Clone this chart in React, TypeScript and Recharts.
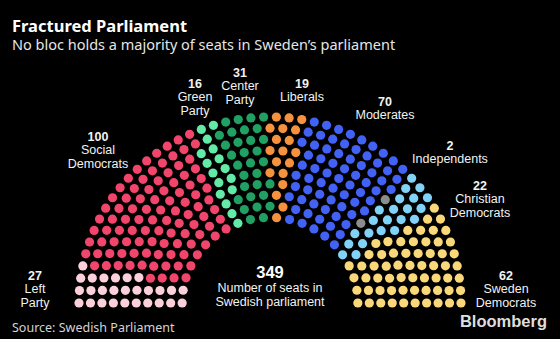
import React from "react";
import { ScatterChart, Scatter, XAxis, YAxis } from "recharts";

// seats per party, left to right around the arc
const parties = [
  "Left Party",
  "Social Democrats",
  "Green Party",
  "Center Party",
  "Liberals",
  "Moderates",
  "Independents",
  "Christian Democrats",
  "Sweden Democrats",
];
const seats = [27, 100, 16, 31, 19, 70, 2, 22, 62];
const colors = [
  "#fbd0da",
  "#f2456b",
  "#62eaa6",
  "#20a062",
  "#f6923e",
  "#4262f6",
  "#8d8d8d",
  "#80d2f7",
  "#fad87a",
];

const W = 560;
const H = 339;
const CX = 270; // centre of the hemicycle, px
const CY = 303;
const RX = 191; // outer radius, px
const RY = 186;
const ROWS = 10;
const INNER = 0.46;

if (typeof document !== "undefined") {
  document.body.style.margin = "0";
  document.body.style.background = "#000";
}

// largest-remainder split of n over weights
function apportion(n: number, weights: number[]) {
  const sum = weights.reduce((a, b) => a + b, 0);
  const raw = weights.map((w) => (n * w) / sum);
  const out = raw.map((v) => Math.floor(v));
  let left = n - out.reduce((a, b) => a + b, 0);
  raw
    .map((v, i) => ({ i, rem: v - Math.floor(v) }))
    .sort((a, b) => b.rem - a.rem)
    .forEach(({ i }) => {
      if (left > 0) {
        out[i] += 1;
        left -= 1;
      }
    });
  return out;
}

// hemicycle layout: each party boundary is cut through all rings at once
function buildSeats() {
  const total = seats.reduce((a, b) => a + b, 0);
  const radii = Array.from({ length: ROWS }, (_, i) => INNER + ((1 - INNER) * i) / (ROWS - 1));
  const counts = apportion(total, radii);

  let cum = 0;
  let prev = counts.map(() => 0);
  const groups = parties.map(() => [] as { x: number; y: number }[]);
  seats.forEach((n, pi) => {
    cum += n;
    const cut = apportion(cum, counts).map((v, i) => Math.max(v, prev[i]));
    radii.forEach((r, i) => {
      const m = counts[i];
      for (let j = prev[i]; j < cut[i]; j++) {
        const a = Math.PI * (1 - j / (m - 1));
        groups[pi].push({ x: r * Math.cos(a), y: r * Math.sin(a) });
      }
    });
    prev = cut;
  });
  return groups;
}

const groups = buildSeats();

const labels = [
  { x: 35, y: 275, lines: ["27", "Left", "Party"] },
  { x: 98, y: 136, lines: ["100", "Social", "Democrats"] },
  { x: 195, y: 83, lines: ["16", "Green", "Party"] },
  { x: 240, y: 72, lines: ["31", "Center", "Party"] },
  { x: 302, y: 83, lines: ["19", "Liberals"] },
  { x: 385, y: 101, lines: ["70", "Moderates"] },
  { x: 450, y: 145, lines: ["2", "Independents"] },
  { x: 480, y: 185, lines: ["22", "Christian", "Democrats"] },
  { x: 506, y: 275, lines: ["62", "Sweden", "Democrats"] },
];

const Dot = (props: any) => (
  <circle cx={props.cx} cy={props.cy} r={4.6} fill={props.fill} />
);

export default function App() {
  const labelFont = "'Liberation Sans', Arial, sans-serif";
  const brandFont = "'Noto Sans', 'Open Sans', sans-serif";
  return (
    <div style={{ position: "relative", width: W, height: H, background: "#000" }}>
      <ScatterChart width={W} height={H} margin={{ top: 0, right: 0, bottom: 0, left: 0 }}>
        <XAxis
          type="number"
          dataKey="x"
          hide
          domain={[-CX / RX, (W - CX) / RX]}
          allowDataOverflow
        />
        <YAxis
          type="number"
          dataKey="y"
          hide
          domain={[-(H - CY) / RY, CY / RY]}
          allowDataOverflow
        />
        {groups.map((g, i) => (
          <Scatter
            key={parties[i]}
            name={parties[i]}
            data={g}
            fill={colors[i]}
            shape={Dot}
            isAnimationActive={false}
          />
        ))}
      </ScatterChart>
      <svg
        width={W}
        height={H}
        style={{ position: "absolute", left: 0, top: 0, pointerEvents: "none" }}
      >
        <text x={12} y={32} fill="#fff" fontFamily={brandFont} fontWeight={700} fontSize={16.5}>
          Fractured Parliament
        </text>
        <text x={12} y={50} fill="#e6e6e6" fontFamily={brandFont} fontSize={14.5}>
          No bloc holds a majority of seats in Sweden’s parliament
        </text>
        <text x={12} y={332} fill="#d4d4d4" fontFamily={brandFont} fontSize={12.5}>
          Source: Swedish Parliament
        </text>
        <text x={547} y={327} textAnchor="end" fill="#dedede" fontFamily={labelFont} fontWeight={700} fontSize={16.5}>
          Bloomberg
        </text>
        {labels.map((l) =>
          l.lines.map((t, i) => (
            <text
              key={l.x + "-" + i}
              x={l.x}
              y={l.y + 4.5 + i * 13.8}
              textAnchor="middle"
              fill="#f2f2f2"
              fontFamily={labelFont}
              fontWeight={i === 0 ? 700 : 400}
              fontSize={12.5}
            >
              {t}
            </text>
          ))
        )}
        <text x={270} y={278} textAnchor="middle" fill="#fff" fontFamily={labelFont} fontWeight={700} fontSize={16.5}>
          349
        </text>
        <text x={270} y={292} textAnchor="middle" fill="#f2f2f2" fontFamily={labelFont} fontSize={12.5}>
          Number of seats in
        </text>
        <text x={270} y={306} textAnchor="middle" fill="#f2f2f2" fontFamily={labelFont} fontSize={12.5}>
          Swedish parliament
        </text>
      </svg>
    </div>
  );
}
